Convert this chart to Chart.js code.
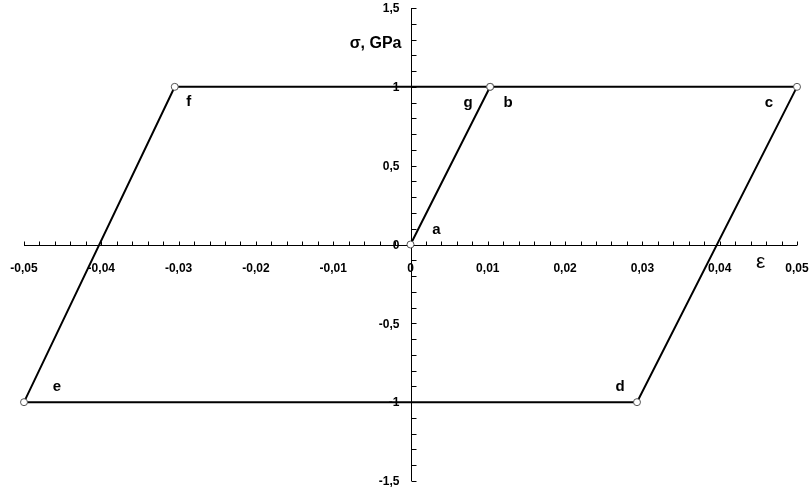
<!DOCTYPE html>
<html>
<head>
<meta charset="utf-8">
<title>σ–ε</title>
<script src="https://cdn.jsdelivr.net/npm/chart.js@4"></script>
<style>
  html, body { margin: 0; padding: 0; background: #fff; }
  #grafico { display: block; }
</style>
</head>
<body>
<canvas id="grafico" width="811" height="493"></canvas>
<script>
// loop points: strain (eps) and stress (GPa)
const strain = [0, 0.0103, 0.05, 0.0293, -0.05, -0.0305, 0.0103];
const stress = [0, 1, 1, -1, -1, 1, 1];
const pointNames = ["a", "b", "c", "d", "e", "f", "g"];

const xTickValues = [-0.05, -0.04, -0.03, -0.02, -0.01, 0, 0.01, 0.02, 0.03, 0.04, 0.05];
const yTickValues = [-1.5, -1, -0.5, 0, 0.5, 1, 1.5];

// where each letter sits relative to its point (px)
const nameOffsets = [[26, -15], [18, 16], [-28, 16], [-17, -15], [33, -15], [14, 15], [-22, 16]];

const FONT = "'Liberation Sans', Arial, sans-serif";
const fmt = (v) => String(v).replace(".", ",");

const eixos = {
  id: "eixos",
  beforeDatasetsDraw(chart) {
    const ctx = chart.ctx;
    const xs = chart.scales.x;
    const ys = chart.scales.y;
    const x0 = Math.round(xs.getPixelForValue(0)) + 0.5;
    const y0 = Math.round(ys.getPixelForValue(0)) + 0.5;

    ctx.save();
    ctx.strokeStyle = "#000";
    ctx.lineWidth = 1;

    // axis lines
    ctx.beginPath();
    ctx.moveTo(xs.getPixelForValue(xs.min), y0);
    ctx.lineTo(xs.getPixelForValue(xs.max), y0);
    ctx.moveTo(x0, ys.getPixelForValue(ys.max));
    ctx.lineTo(x0, ys.getPixelForValue(ys.min));

    // minor ticks: 0.002 on strain, 0.1 on stress
    for (let i = -25; i <= 25; i++) {
      const px = Math.round(xs.getPixelForValue(i * 0.002)) + 0.5;
      ctx.moveTo(px, y0);
      ctx.lineTo(px, y0 - 4);
    }
    for (let i = -15; i <= 15; i++) {
      const py = Math.round(ys.getPixelForValue(i * 0.1)) + 0.5;
      ctx.moveTo(x0, py);
      ctx.lineTo(x0 + 5, py);
    }
    ctx.stroke();

    // tick labels
    ctx.fillStyle = "#000";
    ctx.font = "bold 12px " + FONT;
    ctx.textAlign = "center";
    ctx.textBaseline = "middle";
    xTickValues.forEach((v) => {
      ctx.fillText(fmt(v), xs.getPixelForValue(v), y0 + 23);
    });
    ctx.textAlign = "right";
    yTickValues.forEach((v) => {
      ctx.fillText(fmt(v), x0 - 12, ys.getPixelForValue(v) + 1);
    });

    // axis titles
    ctx.font = "bold 16px " + FONT;
    ctx.textAlign = "right";
    ctx.fillText("σ, GPa", x0 - 10, ys.getPixelForValue(1.275));
    ctx.font = "21px " + FONT;
    ctx.textAlign = "center";
    ctx.fillText("ε", xs.getPixelForValue(0.0453), y0 + 17);
    ctx.restore();
  },
  afterDatasetsDraw(chart) {
    const ctx = chart.ctx;
    const xs = chart.scales.x;
    const ys = chart.scales.y;
    ctx.save();
    ctx.fillStyle = "#000";
    ctx.font = "bold 15px " + FONT;
    ctx.textAlign = "center";
    ctx.textBaseline = "middle";
    pointNames.forEach((nome, i) => {
      const px = xs.getPixelForValue(strain[i]) + nameOffsets[i][0];
      const py = ys.getPixelForValue(stress[i]) + nameOffsets[i][1];
      ctx.fillText(nome, px, py);
    });
    ctx.restore();
  },
};

const pontos = strain.map((x, i) => ({ x: x, y: stress[i] }));

new Chart(document.getElementById("grafico").getContext("2d"), {
  type: "scatter",
  data: {
    datasets: [
      {
        data: pontos,
        showLine: true,
        borderColor: "#000",
        borderWidth: 2,
        pointRadius: 3.5,
        pointBackgroundColor: "#fff",
        pointBorderColor: "#555",
        pointBorderWidth: 1,
        clip: false,
      },
    ],
  },
  options: {
    responsive: false,
    animation: false,
    devicePixelRatio: 1,
    layout: { padding: { left: 24, right: 14, top: 8, bottom: 12 } },
    plugins: { legend: { display: false }, tooltip: { enabled: false } },
    scales: {
      x: { type: "linear", min: -0.05, max: 0.05, display: false },
      y: { type: "linear", min: -1.5, max: 1.5, display: false },
    },
  },
  plugins: [eixos],
});
</script>
</body>
</html>
